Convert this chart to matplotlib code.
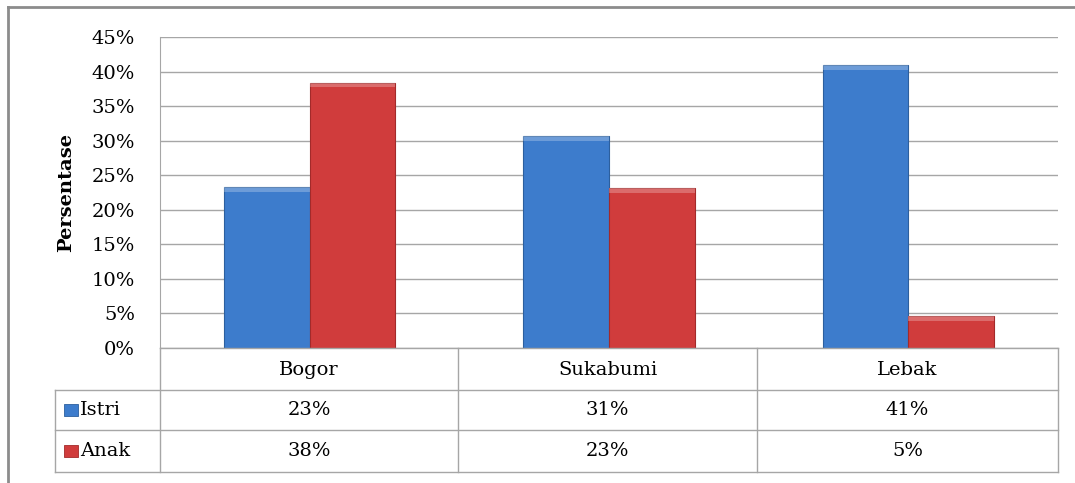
import matplotlib.pyplot as plt
import numpy as np
from matplotlib.patches import Rectangle

CATEGORIES = ["Bogor", "Sukabumi", "Lebak"]
SERIES = ["Istri", "Anak"]
ISTRI = [23.3, 30.7, 40.9]
ANAK = [38.4, 23.2, 4.6]
YTICKS = [0, 5, 10, 15, 20, 25, 30, 35, 40, 45]

BLUE = "#3d7ccc"
BLUE_EDGE = "#2c5f9e"
RED = "#d03c3c"
RED_EDGE = "#a32a2a"
GRID = "#a6a6a6"

W, H = 1075, 483
FS = 14
plt.rcParams["font.family"] = ["DejaVu Serif"]

fig = plt.figure(figsize=(W / 100, H / 100), dpi=100)


def fx(px):
    return px / W


def fy(py):
    return 1 - py / H


# plot area in pixels
L, R, T, B = 160, 1058, 37, 348
ax = fig.add_axes([fx(L), fy(B), fx(R) - fx(L), fy(T) - fy(B)])
x = np.arange(len(CATEGORIES))
width = 0.286
for vals, off, col, ec in [(ISTRI, -width / 2, BLUE, BLUE_EDGE), (ANAK, width / 2, RED, RED_EDGE)]:
    bars = ax.bar(x + off, vals, width=width, color=col, edgecolor=ec, linewidth=0.8, zorder=3)
    # light bevel on top of each bar
    for b in bars:
        ax.add_patch(Rectangle((b.get_x(), b.get_height() - 0.7), b.get_width(), 0.7,
                               color="white", alpha=0.25, lw=0, zorder=4))
ax.set_xlim(-0.5, len(CATEGORIES) - 0.5)
ax.set_ylim(0, 45)
ax.set_yticks(YTICKS)
ax.set_yticklabels([f"{t}%" for t in YTICKS], fontsize=FS)
ax.set_xticks([])
ax.tick_params(axis="y", length=0, pad=18)
ax.grid(axis="y", color=GRID, linewidth=1.0, zorder=0)
for s in ["top", "right", "bottom"]:
    ax.spines[s].set_visible(False)
ax.spines["left"].set_color(GRID)
ax.set_ylabel("Persentase", fontsize=FS, fontweight="bold", labelpad=12)

# data table
tab = fig.add_axes([0, 0, 1, 1], facecolor="none")
tab.set_xlim(0, W)
tab.set_ylim(H, 0)
tab.axis("off")
cols = [160, 458, 757, 1058]
rows = [348, 390, 430, 472]
lc = dict(color=GRID, linewidth=1.0)
tab.plot([160, 1058], [348, 348], **lc)
for yy in rows[1:]:
    tab.plot([55, 1058], [yy, yy], **lc)
tab.plot([55, 55], [390, 472], **lc)
for xx in cols:
    tab.plot([xx, xx], [348, 472], **lc)
for i, cat in enumerate(CATEGORIES):
    cx = (cols[i] + cols[i + 1]) / 2
    tab.text(cx, 370, cat, ha="center", va="center", fontsize=FS)
    tab.text(cx, 410, f"{ISTRI[i]:.0f}%", ha="center", va="center", fontsize=FS)
    tab.text(cx, 451, f"{ANAK[i]:.0f}%", ha="center", va="center", fontsize=FS)
for name, yc, col, ec in [(SERIES[0], 410, BLUE, BLUE_EDGE), (SERIES[1], 451, RED, RED_EDGE)]:
    tab.add_patch(Rectangle((64, yc - 6), 14, 12, facecolor=col, edgecolor=ec, lw=0.6))
    tab.text(80, yc, name, ha="left", va="center", fontsize=FS)

# outer frame
tab.plot([8, 8], [7, H], color="#8c8c8c", linewidth=2)
tab.plot([8, W], [7, 7], color="#8c8c8c", linewidth=2)

fig.savefig("out.png", dpi=100)
